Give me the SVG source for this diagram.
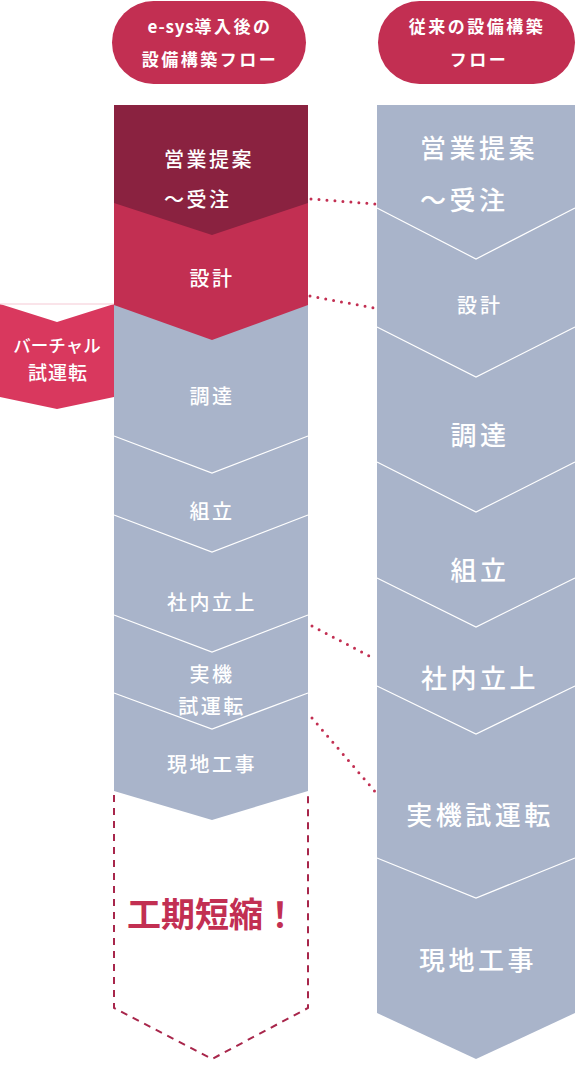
<svg xmlns="http://www.w3.org/2000/svg" width="581" height="1076" viewBox="0 0 581 1076">
<style>
.t{font-family:"Noto Sans CJK JP","Noto Sans",sans-serif;fill:#fff;text-anchor:middle;font-weight:500}
.l{font-size:20px;letter-spacing:2.5px}
.r{font-size:26px;letter-spacing:3.5px}
.h{font-size:17px;font-weight:bold;letter-spacing:2.5px}
.sep{fill:none;stroke:#fff;stroke-width:1.2}
.con{fill:none;stroke:#c22f52;stroke-width:3;stroke-linecap:round;stroke-dasharray:0 8}
</style>
<rect width="581" height="1076" fill="#fff"/>
<g id="header-left">
<rect x="112" y="1" width="194" height="83" rx="41.5" fill="#c22f52"/>
<text class="t h" x="210" y="33"><tspan letter-spacing="0.8">e-sys</tspan>導入後の</text>
<text class="t h" x="210" y="66">設備構築フロー</text>
</g>
<g id="header-right">
<rect x="378" y="1" width="197" height="83" rx="41.5" fill="#c22f52"/>
<text class="t h" x="477" y="33">従来の設備構築</text>
<text class="t h" x="479" y="66">フロー</text>
</g>
<g id="left-flow">
<polygon points="114,300 308,300 308,791 212,820 114,791" fill="#a9b4ca"/>
<polygon points="114,203 308,203 308,305 212,340 114,305" fill="#c22f52"/>
<polygon points="114,105 308,105 308,203 212,235 114,203" fill="#8a2240"/>
<polyline class="sep" points="114,436 212,473 308,436"/>
<polyline class="sep" points="114,515 212,552 308,515"/>
<polyline class="sep" points="114,615 212,652 308,615"/>
<polyline class="sep" points="114,693 212,729 308,693"/>
</g>
<g id="l-sales"><text class="t l" x="164" y="166.5" style="text-anchor:start">営業提案</text><text class="t l" x="164" y="206.5" style="text-anchor:start">〜受注</text></g>
<g id="l-design"><text class="t l" x="212" y="285.5">設計</text></g>
<g id="l-proc"><text class="t l" x="212" y="404">調達</text></g>
<g id="l-assy"><text class="t l" x="212" y="518.5">組立</text></g>
<g id="l-startup"><text class="t l" x="212" y="610">社内立上</text></g>
<g id="l-trial"><text class="t l" x="212" y="681.5">実機</text><text class="t l" x="212" y="713.5">試運転</text></g>
<g id="l-site"><text class="t l" x="212" y="771.5">現地工事</text></g>
<g id="virtual-trial">
<polygon points="0,304 57,322 114,304 114,397 57,409 0,397" fill="#d9385e"/>
<line x1="0" y1="304" x2="114" y2="304" stroke="#f5c9d4" stroke-width="1"/>
<text class="t" x="57" y="352" font-size="17.5">バーチャル</text>
<text class="t" x="58" y="380" font-size="19" letter-spacing="1">試運転</text>
</g>
<g id="shortened">
<path d="M114,795 V1008 L212,1059 L308,1008 V795" fill="none" stroke="#a8264b" stroke-width="2" stroke-dasharray="7 6"/>
<text x="212" y="927" font-size="34" font-weight="bold" fill="#c22f52" text-anchor="middle" font-family="'Noto Sans CJK JP','Noto Sans',sans-serif">工期短縮！</text>
</g>
<g id="right-flow">
<polygon points="377,105 575,105 575,1013 476,1059 377,1013" fill="#a9b4ca"/>
<polyline class="sep" points="377,208 476,259 575,208"/>
<polyline class="sep" points="377,327 476,377 575,327"/>
<polyline class="sep" points="377,462 476,512 575,462"/>
<polyline class="sep" points="377,578 476,627 575,578"/>
<polyline class="sep" points="377,686 476,734 575,686"/>
<polyline class="sep" points="377,858 476,898 575,858"/>
</g>
<g id="r-sales"><text class="t r" x="420" y="158" style="text-anchor:start">営業提案</text><text class="t r" x="420" y="210" style="text-anchor:start">〜受注</text></g>
<g id="r-design"><text class="t" x="480" y="313" font-size="20" letter-spacing="3">設計</text></g>
<g id="r-proc"><text class="t r" x="480" y="445">調達</text></g>
<g id="r-assy"><text class="t r" x="480" y="580">組立</text></g>
<g id="r-startup"><text class="t r" x="480" y="688">社内立上</text></g>
<g id="r-trial"><text class="t r" x="480" y="825">実機試運転</text></g>
<g id="r-site"><text class="t r" x="478" y="970">現地工事</text></g>
<g id="connectors">
<line class="con" x1="311" y1="199" x2="376" y2="204"/>
<line class="con" x1="310" y1="296" x2="374" y2="308"/>
<line class="con" x1="312" y1="626" x2="375" y2="659"/>
<line class="con" x1="312" y1="718" x2="378" y2="795"/>
</g>
</svg>
